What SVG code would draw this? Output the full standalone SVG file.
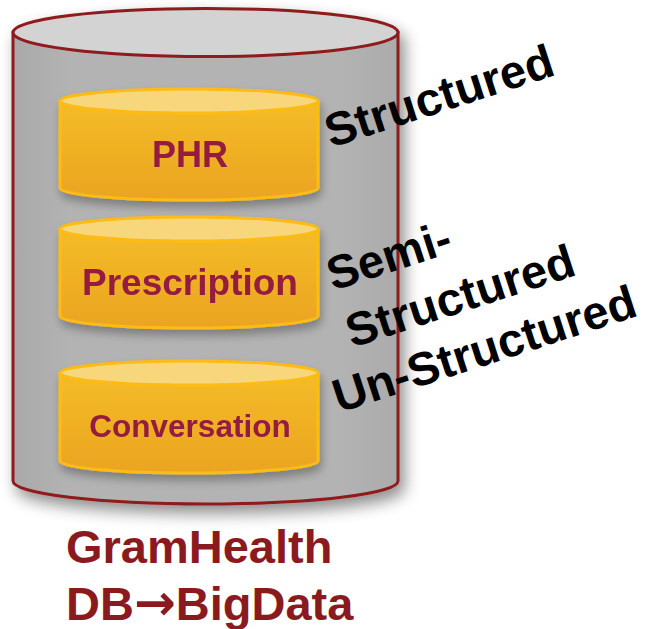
<svg xmlns="http://www.w3.org/2000/svg" width="652" height="629" viewBox="0 0 652 629">
  <style>
    .big { fill: url(#grayBody); stroke: #8E1A1E; stroke-width: 3; }
    .bigTop { fill: #D3D3D3; stroke: #8E1A1E; stroke-width: 3; }
    .small { fill: url(#goldBody); stroke: #FDBB14; stroke-width: 3; }
    .smallTop { fill: #F8D67C; stroke: #FDBB14; stroke-width: 3; }
    .lbl { font-family: "Liberation Sans", Arial, sans-serif; font-weight: bold; fill: #931B3F; text-anchor: middle; }
    .side { font-family: "Liberation Sans", Arial, sans-serif; font-weight: bold; font-size: 47px; fill: #000; }
    .title { font-family: "Liberation Sans", "DejaVu Sans", Arial, sans-serif; font-weight: bold; font-size: 47px; fill: #8B1A1E; }
    .arrow { font-family: "DejaVu Sans", sans-serif; font-weight: bold; }
  </style>
  <defs>
    <linearGradient id="grayBody" x1="0" y1="0" x2="1" y2="0">
      <stop offset="0" stop-color="#A9A9A9"/>
      <stop offset="0.15" stop-color="#B3B3B3"/>
      <stop offset="0.85" stop-color="#B3B3B3"/>
      <stop offset="1" stop-color="#ABABAB"/>
    </linearGradient>
    <linearGradient id="goldBody" x1="0" y1="0" x2="0" y2="1">
      <stop offset="0" stop-color="#F4BC26"/>
      <stop offset="1" stop-color="#EBA422"/>
    </linearGradient>
    <filter id="shadow" x="-10%" y="-10%" width="125%" height="125%">
      <feGaussianBlur in="SourceAlpha" stdDeviation="8"/>
      <feOffset dx="5" dy="8" result="b"/>
      <feComponentTransfer><feFuncA type="linear" slope="0.45"/></feComponentTransfer>
      <feMerge><feMergeNode/><feMergeNode in="SourceGraphic"/></feMerge>
    </filter>
    <filter id="shadowS" x="-10%" y="-20%" width="125%" height="150%">
      <feGaussianBlur in="SourceAlpha" stdDeviation="5"/>
      <feOffset dx="2" dy="6" result="b"/>
      <feComponentTransfer><feFuncA type="linear" slope="0.3"/></feComponentTransfer>
      <feMerge><feMergeNode/><feMergeNode in="SourceGraphic"/></feMerge>
    </filter>
  </defs>

  <g id="gramhealth-db" filter="url(#shadow)">
    <path class="big" d="M13,32.5 L13,481 A192.5,23 0 0 0 398,481 L398,32.5 Z"/>
    <ellipse class="bigTop" cx="205.5" cy="32.5" rx="192.5" ry="24"/>
  </g>

  <g id="phr" filter="url(#shadowS)">
    <path class="small" d="M60,101 L60,188 A129,12 0 0 0 318,188 L318,101 Z"/>
    <ellipse class="smallTop" cx="189" cy="101" rx="129" ry="12"/>
    <text class="lbl" x="190" y="167" font-size="36">PHR</text>
  </g>

  <g id="prescription" filter="url(#shadowS)">
    <path class="small" d="M60,229 L60,316 A129,12 0 0 0 318,316 L318,229 Z"/>
    <ellipse class="smallTop" cx="189" cy="229" rx="129" ry="12"/>
    <text class="lbl" x="190" y="295" font-size="37">Prescription</text>
  </g>

  <g id="conversation" filter="url(#shadowS)">
    <path class="small" d="M60,373 L60,461 A129,12 0 0 0 318,461 L318,373 Z"/>
    <ellipse class="smallTop" cx="189" cy="373" rx="129" ry="12"/>
    <text class="lbl" x="190" y="437" font-size="31.5">Conversation</text>
  </g>

  <g id="labels">
    <text class="side" x="331" y="148" transform="rotate(-18 331 148)">Structured</text>
    <text class="side" x="333" y="291" transform="rotate(-18 333 291)">Semi-</text>
    <text class="side" x="352" y="348" transform="rotate(-18 352 348)">Structured</text>
    <text class="side" x="339" y="413" transform="rotate(-18 339 413)">Un-Structured</text>
  </g>

  <g id="title">
    <text class="title" x="66" y="563">GramHealth</text>
    <text class="title" x="66" y="620">DB<tspan class="arrow" font-size="50">→</tspan>BigData</text>
  </g>

  <g id="connectors"/>
</svg>
